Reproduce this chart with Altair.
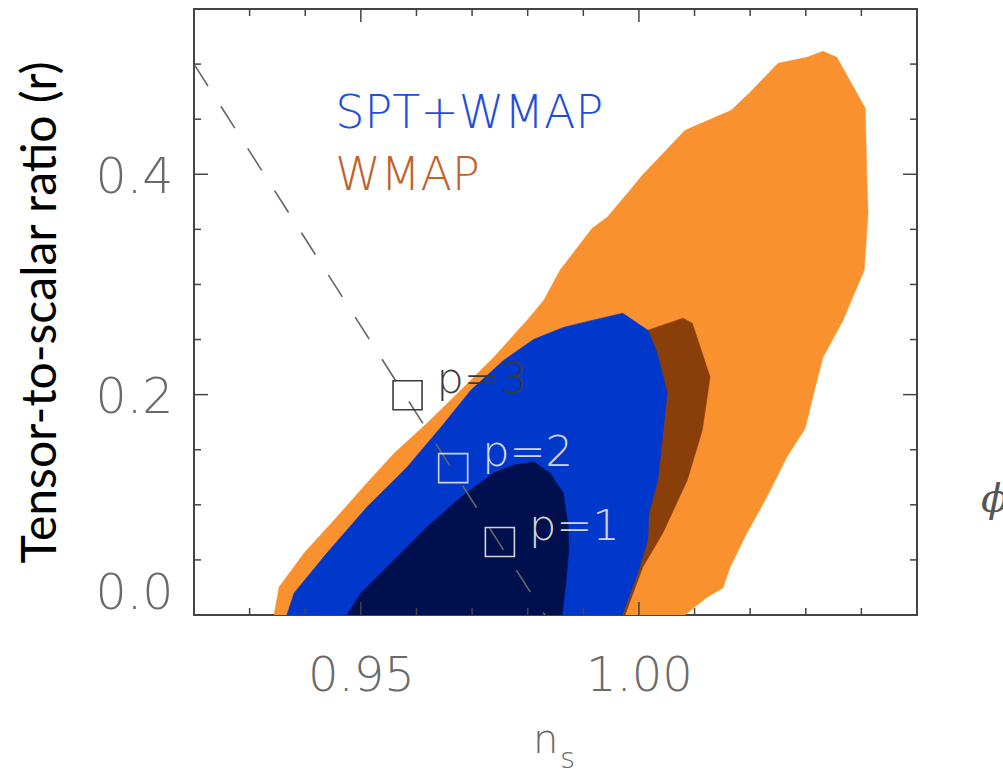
import altair as alt
import pandas as pd

# ---------------- data ----------------
# WMAP 95% region (orange)
wmap95_x = [0.9344, 0.9353, 0.9398, 0.9452, 0.9511, 0.9560, 0.9619, 0.9680, 0.9739, 0.9799,
            0.9829, 0.9858, 0.9916, 0.9943, 0.9984, 1.0006, 1.0083, 1.0166, 1.0200, 1.0250,
            1.0302, 1.0331, 1.0356, 1.0407, 1.0410, 1.0412, 1.0405, 1.0367, 1.0331, 1.0317,
            1.0299, 1.0266, 1.0230, 1.0194, 1.0164, 1.0151, 1.0123, 1.0087, 1.0083]
wmap95_y = [0.0, 0.0254, 0.0562, 0.0862, 0.1197, 0.1469, 0.1741, 0.2041, 0.2340, 0.2676,
            0.2857, 0.3129, 0.3510, 0.3610, 0.3855, 0.3991, 0.4399, 0.4580, 0.4744, 0.5007,
            0.5061, 0.5116, 0.5061, 0.4599, 0.3946, 0.3646, 0.3129, 0.2676, 0.2340, 0.2068,
            0.1696, 0.1433, 0.1070, 0.0744, 0.0435, 0.0245, 0.0163, 0.0018, 0.0]

# WMAP 68% region (brown)
wmap68_x = [0.9975, 1.0007, 1.0043, 1.0087, 1.0114, 1.0128, 1.0096, 1.0079, 1.0016, 0.9930,
            0.9822, 0.9714, 0.9606, 0.9535, 0.9481]
wmap68_y = [0.0, 0.0435, 0.0744, 0.1224, 0.1678, 0.2159, 0.2649, 0.2694, 0.2585, 0.2449,
            0.2222, 0.1769, 0.1224, 0.0680, 0.0]

# SPT+WMAP 95% region (blue)
spt95_x = [0.9367, 0.9380, 0.9439, 0.9511, 0.9583, 0.9644, 0.9698, 0.9757, 0.9811, 0.9865,
           0.9917, 0.9971, 1.0016, 1.0033, 1.0051, 1.0042, 1.0034, 1.0018, 1.0016, 0.9998, 0.9970]
spt95_y = [0.0, 0.0200, 0.0562, 0.0980, 0.1342, 0.1705, 0.2041, 0.2313, 0.2503, 0.2612,
           0.2676, 0.2739, 0.2585, 0.2376, 0.2014, 0.1587, 0.1224, 0.0925, 0.0680, 0.0381, 0.0]

# SPT+WMAP 68% region (navy)
spt68_x = [0.9475, 0.9500, 0.9560, 0.9619, 0.9680, 0.9739, 0.9775, 0.9811, 0.9840, 0.9864,
           0.9873, 0.9874, 0.9869, 0.9862]
spt68_y = [0.0, 0.0200, 0.0499, 0.0798, 0.1070, 0.1288, 0.1361, 0.1388, 0.1288, 0.1107,
           0.0798, 0.0590, 0.0317, 0.0]

# dashed model line
line_x = [0.9200, 0.9831]
line_y = [0.500, 0.0]

# model points
pt_labels = ["p=3", "p=2", "p=1"]
pt_x = [0.9584, 0.9666, 0.9750]
pt_y = [0.1995, 0.1333, 0.0662]
pt_colors = ["#3a3a3a", "#d4d4d4", "#d4d4d4"]

# legend texts
leg_labels = ["SPT+WMAP", "WMAP"]
leg_x = [0.9454, 0.9454]
leg_y = [0.4417, 0.3855]
leg_colors = ["#1f4fd8", "#c0622a"]

# axis ticks
x_major = [0.95, 1.00]
x_minor = [0.93, 0.94, 0.96, 0.97, 0.98, 0.99, 1.01, 1.02, 1.03, 1.04]
y_major = [0.0, 0.2, 0.4]
y_minor = [0.05, 0.1, 0.15, 0.25, 0.3, 0.35, 0.45, 0.5]

XDOM = [0.92, 1.05]
YDOM = [0.0, 0.55]
W, H = 723, 606

xs = alt.Scale(domain=XDOM, nice=False, zero=False)
ys = alt.Scale(domain=YDOM, nice=False, zero=False)

FONT = "DejaVu Sans"


def poly(xv, yv, color):
    xv = list(xv) + [xv[0]]
    yv = list(yv) + [yv[0]]
    df = pd.DataFrame({"x": xv, "y": yv, "i": list(range(len(xv)))})
    return alt.Chart(df).mark_line(fill=color, stroke=color, strokeWidth=0.5,
                                   interpolate="linear", clip=True).encode(
        x=alt.X("x:Q", scale=xs),
        y=alt.Y("y:Q", scale=ys),
        order=alt.Order("i:Q"),
    )


base_df = pd.DataFrame({"x": [XDOM[0]], "y": [YDOM[0]]})
axes = alt.Chart(base_df).mark_point(opacity=0).encode(
    x=alt.X("x:Q", scale=xs, axis=alt.Axis(
        values=x_major, format=".2f", ticks=False, tickSize=0, domain=False, grid=False,
        labelFont=FONT, labelFontSize=48, labelFontWeight=200, labelColor="#6a6a6a",
        labelPadding=75, labelBaseline="alphabetic", labelFlush=False, title=None)),
    y=alt.Y("y:Q", scale=ys, axis=alt.Axis(
        values=y_major, format=".1f", ticks=False, tickSize=0, domain=False, grid=False,
        labelFont=FONT, labelFontSize=49, labelFontWeight=200, labelColor="#6a6a6a",
        labelPadding=21, labelFlush=True, labelOffset=3,
        title="Tensor-to-scalar ratio (r)", titleFont="Lato", titleFontSize=48,
        titleFontWeight="normal", titleColor="#000000", titleAngle=270,
        titleBaseline="alphabetic", titleAlign="center", titleX=-139, titleY=H / 2)),
)

orange = poly(wmap95_x, wmap95_y, "#F8912E")
brown = poly(wmap68_x, wmap68_y, "#8A3F0A")
blue = poly(spt95_x, spt95_y, "#0038CC")
navy = poly(spt68_x, spt68_y, "#000F4D")

dash = alt.Chart(pd.DataFrame({"x": line_x, "y": line_y})).mark_line(
    color="#666666", strokeWidth=1.6, strokeDash=[26, 24], clip=True).encode(
    x=alt.X("x:Q", scale=xs), y=alt.Y("y:Q", scale=ys))

pts_df = pd.DataFrame({"x": pt_x, "y": pt_y, "label": pt_labels, "c": pt_colors})
boxes = alt.Chart(pts_df).mark_point(shape="square", size=841, filled=False,
                                     strokeWidth=1.6, opacity=1).encode(
    x=alt.X("x:Q", scale=xs), y=alt.Y("y:Q", scale=ys),
    stroke=alt.Stroke("c:N", scale=None))
plabels = alt.Chart(pts_df).mark_text(align="left", baseline="alphabetic", dx=29, dy=-2,
                                      font=FONT, fontSize=43, fontWeight=200).encode(
    x=alt.X("x:Q", scale=xs), y=alt.Y("y:Q", scale=ys),
    text="label:N", color=alt.Color("c:N", scale=None))

leg_df = pd.DataFrame({"x": leg_x, "y": leg_y, "label": leg_labels, "c": leg_colors})
legend = alt.Chart(leg_df).mark_text(align="left", baseline="alphabetic",
                                     font=FONT, fontSize=46, fontWeight=200).encode(
    x=alt.X("x:Q", scale=xs), y=alt.Y("y:Q", scale=ys),
    text="label:N", color=alt.Color("c:N", scale=None))

TICKC = "#444444"


def xticks(vals, length):
    d = pd.DataFrame({"v": vals})
    bot = alt.Chart(d).mark_rule(color=TICKC, strokeWidth=1.5).encode(
        x=alt.X("v:Q", scale=xs), y=alt.value(H), y2=alt.value(H - length))
    top = alt.Chart(d).mark_rule(color=TICKC, strokeWidth=1.5).encode(
        x=alt.X("v:Q", scale=xs), y=alt.value(0), y2=alt.value(length))
    return bot + top


def yticks(vals, length):
    d = pd.DataFrame({"v": vals})
    left = alt.Chart(d).mark_rule(color=TICKC, strokeWidth=1.5).encode(
        y=alt.Y("v:Q", scale=ys), x=alt.value(0), x2=alt.value(length))
    right = alt.Chart(d).mark_rule(color=TICKC, strokeWidth=1.5).encode(
        y=alt.Y("v:Q", scale=ys), x=alt.value(W), x2=alt.value(W - length))
    return left + right


n_title = alt.Chart(base_df).mark_text(align="left", baseline="alphabetic", font=FONT,
                                       fontSize=40, fontWeight=200, color="#6a6a6a").encode(
    x=alt.value(339), y=alt.value(744), text=alt.value("n"))
s_title = alt.Chart(base_df).mark_text(align="left", baseline="alphabetic", font=FONT,
                                       fontSize=29, fontWeight=200, color="#6a6a6a").encode(
    x=alt.value(366), y=alt.value(759), text=alt.value("s"))
phi = alt.Chart(base_df).mark_text(align="left", baseline="middle", font="DejaVu Serif",
                                   fontSize=40, fontStyle="italic", color="#555555").encode(
    x=alt.value(787), y=alt.value(491), text=alt.value("ϕ"))

chart = alt.layer(
    axes, orange, brown, blue, navy, dash, boxes, plabels, legend,
    xticks(x_minor, 7), xticks(x_major, 13), yticks(y_minor, 7), yticks(y_major, 14),
    n_title, s_title, phi,
).properties(
    width=W, height=H,
    autosize=alt.AutoSizeParams(type="none"),
    padding={"left": 194, "top": 9, "right": 86, "bottom": 154},
    background="white",
).configure_view(stroke="#444444", strokeWidth=2)

chart.save("out.html", embed_options={"renderer": "svg", "actions": False})
